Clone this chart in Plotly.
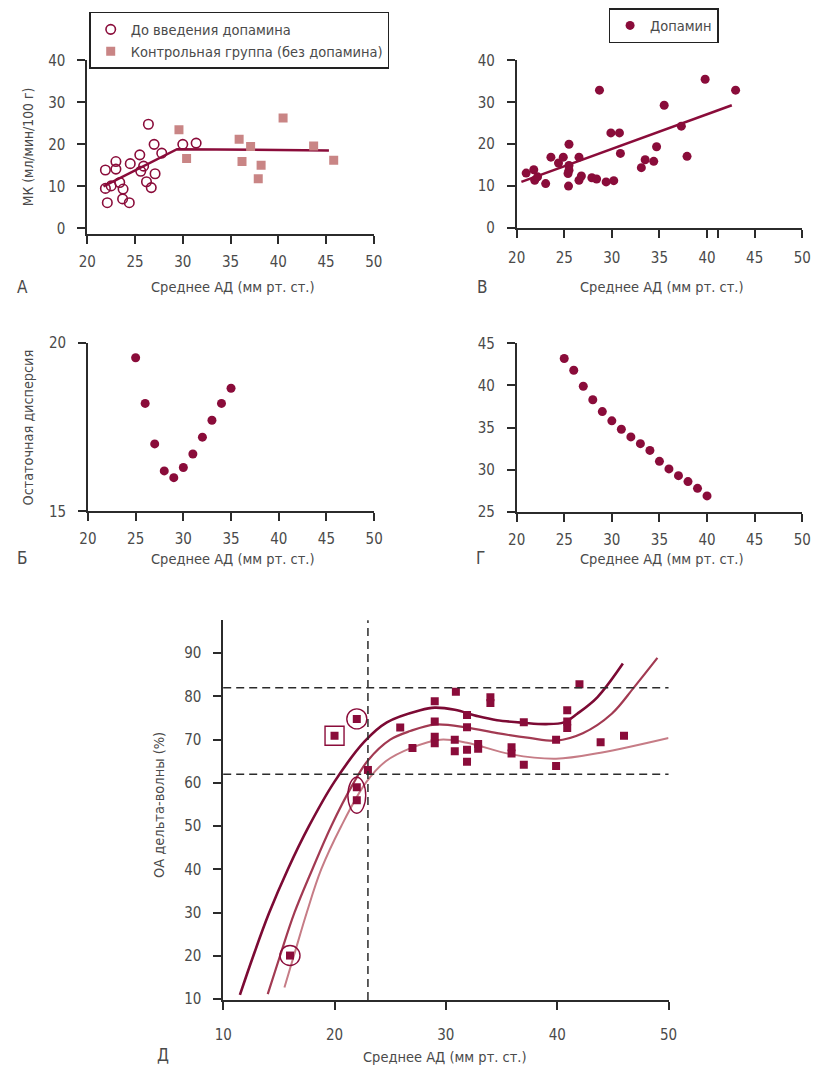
import plotly.graph_objects as go

W, H = 822, 1074
FONT = "Liberation Sans Narrow, DejaVu Sans Condensed, Arial Narrow, sans-serif"
INK = "#8a0c3a"
ROSE = "#c98585"
AXIS = "#2b2b2b"
TXT = "#4a4a4a"

# ---- Panel A: CBF vs mean BP (before dopamine / control group)
a_pre_x = [21.9, 21.9, 22.1, 22.5, 23.0, 23.0, 23.4, 23.75, 23.7, 24.4, 24.5,
           25.5, 25.6, 25.9, 26.4, 26.2, 26.7, 27.0, 27.1, 27.8, 30.0, 31.4]
a_pre_y = [13.9, 9.5, 6.1, 10.1, 15.9, 14.1, 10.9, 9.35, 7.0, 6.1, 15.4,
           17.5, 13.6, 14.8, 24.8, 11.1, 9.7, 20.0, 13.0, 17.9, 20.0, 20.3]
a_ctrl_x = [29.6, 30.4, 35.9, 36.2, 37.1, 37.9, 38.2, 40.5, 43.7, 45.8]
a_ctrl_y = [23.5, 16.6, 21.2, 15.9, 19.5, 11.8, 15.0, 26.3, 19.6, 16.2]
a_fit_x = [21.7, 29.4, 45.3]
a_fit_y = [10.0, 18.85, 18.55]

# ---- Panel B: CBF vs mean BP on dopamine
b_x = [21.0, 21.8, 21.9, 22.2, 23.05, 23.6, 24.4, 24.9, 25.5, 25.5, 25.5,
       25.4, 25.45, 26.55, 26.55, 26.8, 27.9, 28.4, 28.7, 29.4, 30.2, 29.9,
       30.8, 30.9, 33.1, 33.5, 34.4, 34.7, 35.5, 37.3, 37.9, 39.8, 43.0]
b_y = [13.1, 13.9, 11.4, 12.2, 10.6, 16.9, 15.5, 16.9, 20.0, 14.9, 13.8,
       13.0, 10.0, 16.9, 11.4, 12.4, 12.0, 11.7, 32.9, 11.0, 11.3, 22.7,
       22.7, 17.8, 14.4, 16.3, 15.9, 19.4, 29.3, 24.3, 17.1, 35.5, 32.9]
b_fit_x = [20.5, 42.6]
b_fit_y = [11.0, 29.3]

# ---- Panel Б: residual variance vs breakpoint
v_x = [25, 26, 27, 28, 29, 30, 31, 32, 33, 34, 35]
v_y = [19.55, 18.2, 17.0, 16.2, 16.0, 16.3, 16.7, 17.2, 17.7, 18.2, 18.65]

# ---- Panel Г
g_x = list(range(25, 41))
g_y = [43.2, 41.8, 39.9, 38.3, 36.9, 35.8, 34.8, 33.9, 33.1, 32.3,
       31.0, 30.1, 29.3, 28.6, 27.8, 26.9]

# ---- Panel Д: delta-wave amplitude vs mean BP
d_x = [16.0, 20.0, 22.0, 22.0, 22.0, 23.0, 25.9, 27.0, 29.0, 29.0, 29.0, 29.0,
       30.9, 30.8, 30.8, 31.9, 31.9, 31.9, 31.9, 32.9, 32.9, 34.0, 34.0, 35.9,
       35.9, 37.0, 37.0, 39.9, 39.9, 40.9, 40.9, 40.9, 42.0, 43.9, 46.0]
d_y = [20.1, 70.9, 74.8, 59.0, 56.0, 63.0, 72.8, 68.1, 78.9, 74.2, 70.7, 69.2,
       81.1, 70.0, 67.3, 75.7, 72.9, 67.7, 64.9, 69.0, 67.9, 79.8, 78.5, 68.25,
       66.8, 74.0, 64.2, 70.0, 63.9, 76.8, 74.2, 72.7, 82.8, 69.4, 70.9]
d_circled = [0, 2]      # single points ringed by a circle
d_boxed = [1]           # point framed by a box
d_paired = [3, 4]       # pair enclosed by one ellipse
d_ref_x = [23]
d_ref_y = [62, 82]

curve_hi_x = [11.5, 12.7, 14.1, 15.8, 17.7, 20.0, 22.7, 24.7, 27.7, 29.0, 30.8,
              32.9, 34.6, 37.0, 39.0, 40.6, 41.8, 43.6, 45.9]
curve_hi_y = [11.0, 20.0, 29.8, 40.0, 50.0, 60.3, 69.6, 74.0, 76.8, 77.4, 76.9,
              75.4, 74.5, 73.9, 73.6, 74.0, 76.0, 79.8, 87.6]
curve_mid_x = [14.0, 15.1, 16.4, 18.0, 19.7, 21.6, 23.0, 25.0, 26.8, 29.0, 31.9,
               34.6, 37.5, 39.9, 42.3, 44.9, 46.9, 49.0]
curve_mid_y = [11.2, 20.0, 30.0, 40.0, 50.0, 59.5, 65.2, 70.0, 72.0, 73.5, 72.8,
               71.5, 70.4, 69.8, 71.5, 76.0, 82.1, 88.9]
curve_lo_x = [15.5, 16.4, 17.5, 18.8, 20.6, 22.8, 24.6, 26.9, 29.5, 31.9, 35.9,
              39.9, 43.9, 50.0]
curve_lo_y = [12.7, 20.5, 30.0, 40.0, 50.0, 60.0, 65.0, 68.1, 70.0, 69.3, 66.6,
              65.6, 67.0, 70.4]

x_title = "Среднее АД (мм рт. ст.)"


def px_x(p):
    return p / W


def px_y(p):
    return 1 - p / H


fig = go.Figure()

# A
fig.add_trace(go.Scatter(x=a_fit_x, y=a_fit_y, mode="lines", line=dict(color=INK, width=2.5),
                         xaxis="x", yaxis="y", showlegend=False))
fig.add_trace(go.Scatter(x=a_pre_x, y=a_pre_y, mode="markers", name="До введения допамина",
                         marker=dict(symbol="circle-open", size=9.5, color=INK, line=dict(width=1.6)),
                         xaxis="x", yaxis="y", legend="legend"))
fig.add_trace(go.Scatter(x=a_ctrl_x, y=a_ctrl_y, mode="markers",
                         name="Контрольная группа (без допамина)",
                         marker=dict(symbol="square", size=9, color=ROSE),
                         xaxis="x", yaxis="y", legend="legend"))
# B
fig.add_trace(go.Scatter(x=b_fit_x, y=b_fit_y, mode="lines", line=dict(color=INK, width=2.5),
                         xaxis="x2", yaxis="y2", showlegend=False))
fig.add_trace(go.Scatter(x=b_x, y=b_y, mode="markers", name="Допамин",
                         marker=dict(symbol="circle", size=9, color=INK),
                         xaxis="x2", yaxis="y2", legend="legend2"))
# Б
fig.add_trace(go.Scatter(x=v_x, y=v_y, mode="markers", marker=dict(size=9, color=INK),
                         xaxis="x3", yaxis="y3", showlegend=False))
# Г
fig.add_trace(go.Scatter(x=g_x, y=g_y, mode="markers", marker=dict(size=9, color=INK),
                         xaxis="x4", yaxis="y4", showlegend=False))
# Д curves
for cx, cy, col, w in [(curve_lo_x, curve_lo_y, "#c67c86", 2),
                       (curve_mid_x, curve_mid_y, "#a23a52", 2.2),
                       (curve_hi_x, curve_hi_y, "#7c0a34", 2.6)]:
    fig.add_trace(go.Scatter(x=cx, y=cy, mode="lines",
                             line=dict(color=col, width=w, shape="spline", smoothing=1.0),
                             xaxis="x5", yaxis="y5", showlegend=False))
fig.add_trace(go.Scatter(x=d_x, y=d_y, mode="markers", marker=dict(symbol="square", size=8, color=INK),
                         xaxis="x5", yaxis="y5", showlegend=False))
fig.add_trace(go.Scatter(x=[d_x[i] for i in d_circled], y=[d_y[i] for i in d_circled], mode="markers",
                         marker=dict(symbol="circle-open", size=20, color=INK, line=dict(width=1.4)),
                         xaxis="x5", yaxis="y5", showlegend=False))
fig.add_trace(go.Scatter(x=[d_x[i] for i in d_boxed], y=[d_y[i] for i in d_boxed], mode="markers",
                         marker=dict(symbol="square-open", size=19, color=INK, line=dict(width=1.4)),
                         xaxis="x5", yaxis="y5", showlegend=False))

shapes = []
px_ = [d_x[i] for i in d_paired]
py_ = [d_y[i] for i in d_paired]
shapes.append(dict(type="circle", xref="x5", yref="y5",
                   x0=min(px_) - 0.8, x1=max(px_) + 0.8,
                   y0=min(py_) - 3.0, y1=max(py_) + 2.3,
                   line=dict(color=INK, width=1.4)))
for xv in d_ref_x:
    shapes.append(dict(type="line", xref="x5", yref="y5 domain", x0=xv, x1=xv, y0=0, y1=1,
                       line=dict(color=AXIS, width=1.5, dash="8px,5px")))
for yv in d_ref_y:
    shapes.append(dict(type="line", xref="x5 domain", yref="y5", x0=0, x1=1, y0=yv, y1=yv,
                       line=dict(color=AXIS, width=1.5, dash="8px,5px")))

axis_common = dict(showline=True, linecolor=AXIS, linewidth=1.6, ticks="outside", ticklen=8,
                   tickwidth=1.5, tickcolor=AXIS, showgrid=False, zeroline=False,
                   tickfont=dict(family=FONT, size=15, color=TXT), ticklabelstandoff=9,
                   fixedrange=True)


def xax(dom, rng, anchor, dtick, **kw):
    d = dict(axis_common, domain=dom, range=rng, anchor=anchor, tickmode="linear",
             tick0=rng[0], dtick=dtick)
    d.update(kw)
    return d


def yax(dom, rng, anchor, tickvals):
    return dict(axis_common, domain=dom, range=rng, anchor=anchor, tickmode="array",
                tickvals=tickvals)


xd_top = [px_x(80), px_x(373)]
xd_right = [px_x(519), px_x(811)]

layout = dict(
    width=W, height=H, margin=dict(l=0, r=0, t=0, b=0),
    paper_bgcolor="white", plot_bgcolor="white",
    font=dict(family=FONT, color=TXT),
    xaxis=xax(xd_top, [20, 50], "y", 5, ticklabelstandoff=5),
    yaxis=yax([px_y(229), px_y(52.3)], [-1.4, 40], "x", [0, 10, 20, 30, 40]),
    xaxis2=dict(axis_common, domain=xd_right, range=[20, 50], anchor="y2", tickmode="array",
                tickvals=[20, 25, 30, 35, 40, 41.2, 45, 50],
                ticktext=["20", "25", "30", "35", "40", "", "45", "50"], ticklabelstandoff=7),
    yaxis2=yax([px_y(222.7), px_y(52.3)], [0, 40], "x2", [0, 10, 20, 30, 40]),
    xaxis3=xax([px_x(80.7), px_x(373.3)], [20, 50], "y3", 5, ticklabelstandoff=5),
    yaxis3=yax([px_y(511), px_y(339.3)], [15, 20], "x3", [15, 20]),
    xaxis4=xax(xd_right, [20, 50], "y4", 5, ticklabelstandoff=5),
    yaxis4=yax([px_y(511.5), px_y(340)], [25, 45], "x4", [25, 30, 35, 40, 45]),
    xaxis5=xax([px_x(219), px_x(674.3)], [10, 50], "y5", 10, ticklabelstandoff=12),
    yaxis5=yax([px_y(1008), px_y(621.7)], [9.8, 97.6], "x5", [10, 20, 30, 40, 50, 60, 70, 80, 90]),
    shapes=shapes,
    legend=dict(x=px_x(82), y=px_y(3), xanchor="left", yanchor="top", bgcolor="white",
                bordercolor="#222", borderwidth=1.5, font=dict(family=FONT, size=14.5, color=TXT),
                tracegroupgap=0),
    legend2=dict(x=px_x(613), y=px_y(-1), xanchor="left", yanchor="top", bgcolor="white",
                 bordercolor="#222", borderwidth=1.5, font=dict(family=FONT, size=14.5, color=TXT)),
)
fig.update_layout(**layout)

ann = []


def label(text, x, y, size, angle=0):
    ann.append(dict(text=text, x=px_x(x), y=px_y(y), xref="paper", yref="paper",
                    xanchor="center", yanchor="middle", textangle=angle, showarrow=False,
                    font=dict(family=FONT, size=size, color=TXT)))


for x, y in [(229, 283), (668, 283), (229, 559), (668, 559), (446, 1066)]:
    label(x_title, x, y, 14.5)
label("МК (мл/мин/100 г)", 19, 140, 13.8, -90)
label("Остаточная дисперсия", 19, 426, 14.3, -90)
label("ОА дельта-волны (%)", 154, 810, 14.5, -90)
for text, x, y in [("А", 14, 283), ("В", 484, 283), ("Б", 14, 558), ("Г", 482, 558), ("Д", 157, 1064)]:
    label(text, x, y, 17)
fig.update_layout(annotations=ann)

fig.write_html("out.html")
